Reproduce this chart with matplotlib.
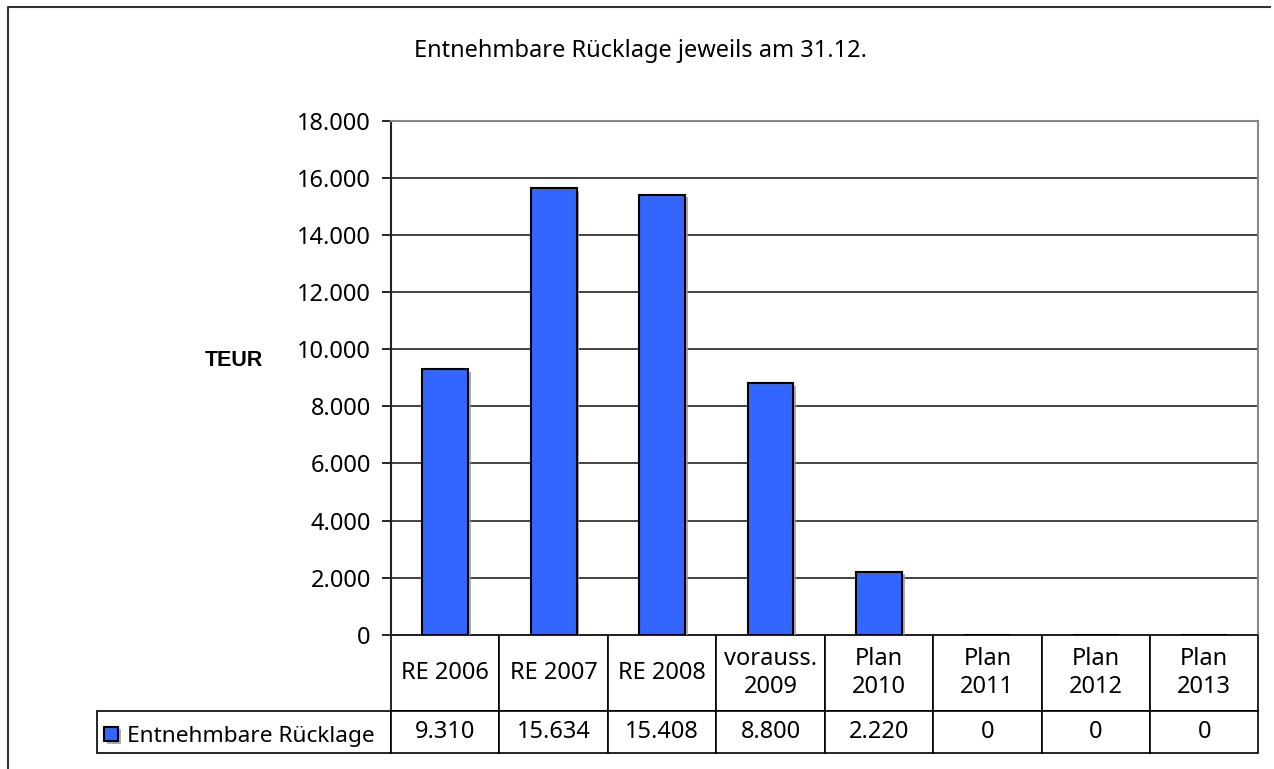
import matplotlib
matplotlib.use("Agg")
import matplotlib.pyplot as plt
from matplotlib.table import Table
from matplotlib.lines import Line2D
from matplotlib import patheffects as pe
from matplotlib.ticker import FuncFormatter

plt.rcParams['font.family'] = ['Noto Sans', 'DejaVu Sans']

# data
categories = ["RE 2006", "RE 2007", "RE 2008", "vorauss.\n2009",
              "Plan\n2010", "Plan\n2011", "Plan\n2012", "Plan\n2013"]
values = [9310, 15634, 15408, 8800, 2220, 0, 0, 0]
series_name = "Entnehmbare Rücklage"
title = "Entnehmbare Rücklage jeweils am 31.12."
y_ticks = list(range(0, 18001, 2000))

FS = 17
BAR_COLOR = "#3366FF"


def de_fmt(v, pos=None):
    return f"{int(v):,}".replace(",", ".")


fig = plt.figure(figsize=(12.74, 7.69), dpi=100)
ax = fig.add_axes([0.3069, 0.1743, 0.6809, 0.6690])

x = list(range(len(categories)))
bars = ax.bar(x, values, width=0.424, color=BAR_COLOR, edgecolor="black",
              linewidth=1.5, zorder=3)
for b in bars:
    b.set_path_effects([pe.SimplePatchShadow(offset=(2, -2), shadow_rgbFace="#999999", alpha=0.8),
                        pe.Normal()])

ax.set_xlim(-0.5, len(categories) - 0.5)
ax.set_ylim(0, 18000)
ax.set_yticks(y_ticks)
ax.yaxis.set_major_formatter(FuncFormatter(de_fmt))
ax.set_xticks([])
ax.tick_params(axis="y", direction="out", length=6.5, width=1.2, pad=8, labelsize=FS)
ax.grid(axis="y", color="#222222", linewidth=1.2, zorder=1)
ax.set_axisbelow(True)

for s in ["top", "right"]:
    ax.spines[s].set_color("#888888")
    ax.spines[s].set_linewidth(1.5)
ax.spines["left"].set_color("#222222")
ax.spines["left"].set_linewidth(1.5)
ax.spines["bottom"].set_color("#222222")
ax.spines["bottom"].set_linewidth(1.2)

ax.set_ylabel("TEUR", rotation=0, fontweight="bold", fontsize=15.5,
              family=["Liberation Sans", "DejaVu Sans"], va="center", ha="center")
ax.yaxis.set_label_coords(-0.181, 0.534)

fig.text(0.5024, 1 - 51 / 769, title, ha="center", va="center", fontsize=FS)

# data table below the plot
label_w = 0.3389
col_w = 0.125
h_head = 76.0
h_val = 42.0
tot = h_head + h_val
tbl = Table(ax, bbox=[-label_w, -tot / 514.5, label_w + col_w * len(categories), tot / 514.5])
c = tbl.add_cell(0, 0, width=label_w, height=h_head / tot, text="", loc="center")
c.visible_edges = ""
tbl.add_cell(1, 0, width=label_w, height=h_val / tot, text="", loc="left",
             edgecolor="black")
for i, cat in enumerate(categories):
    tbl.add_cell(0, i + 1, width=col_w, height=h_head / tot, text=cat, loc="center",
                 edgecolor="black")
    tbl.add_cell(1, i + 1, width=col_w, height=h_val / tot, text=de_fmt(values[i]),
                 loc="center", edgecolor="black")
tbl.auto_set_font_size(False)
tbl.set_fontsize(FS)
for cell in tbl.get_celld().values():
    cell.set_linewidth(1.2)
    cell.get_text().set_linespacing(1.25)
ax.add_table(tbl)

ax.legend([bars], [series_name], loc="center left", bbox_to_anchor=(-0.3308, -0.197),
          frameon=False, fontsize=16.3, handlelength=0.62, handleheight=0.62,
          handletextpad=0.4, borderaxespad=0, borderpad=0)

# outer chart border (left and top visible)
fig.add_artist(Line2D([8 / 1274, 8 / 1274, 1270 / 1274], [0, 1 - 6.5 / 769, 1 - 6.5 / 769],
                      transform=fig.transFigure, color="#333333", linewidth=1.5))

fig.savefig("out.png", dpi=100)
